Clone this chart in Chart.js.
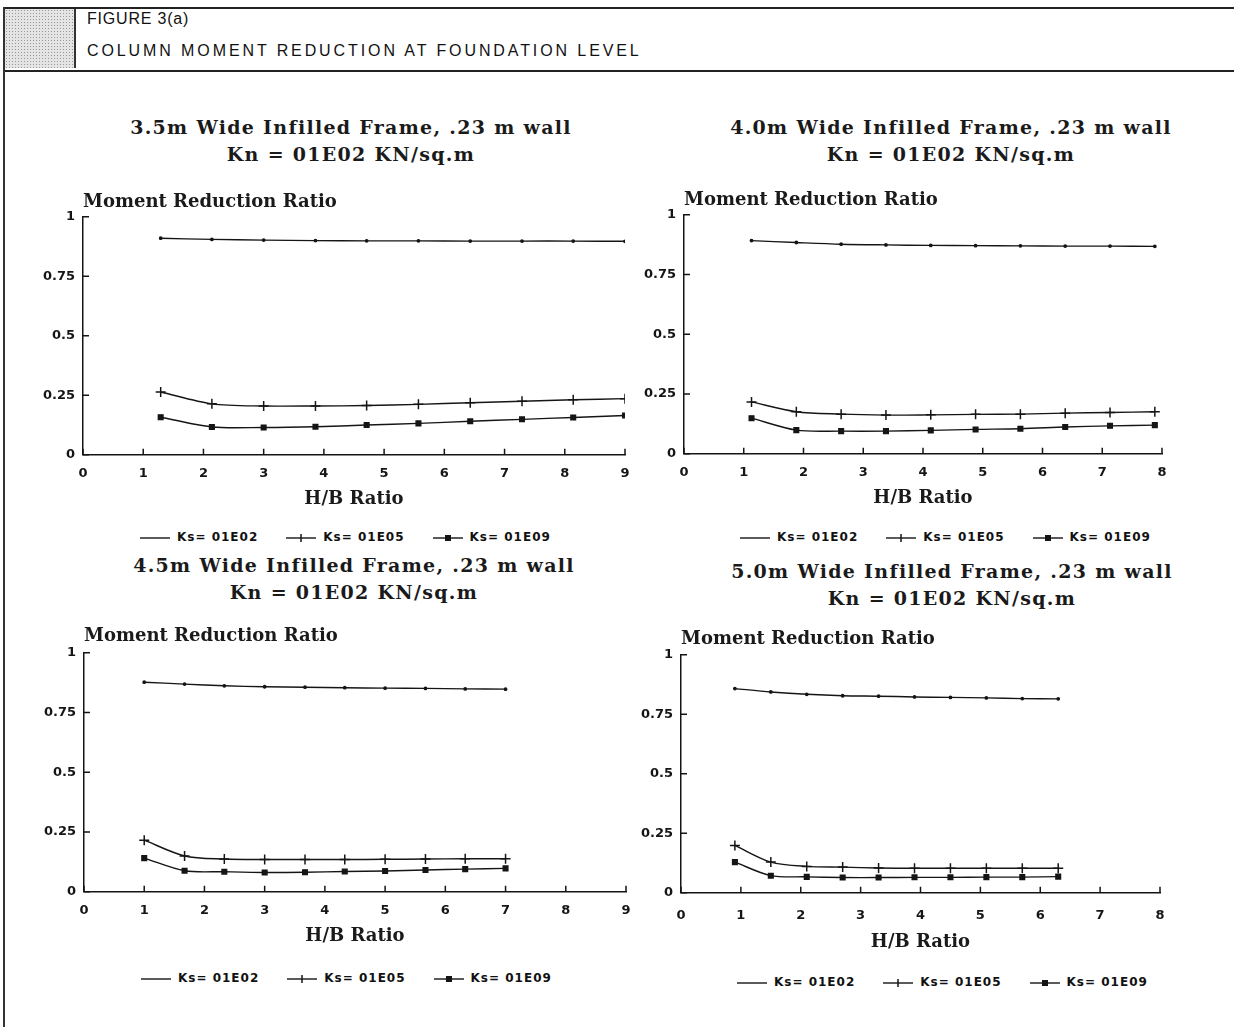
<!DOCTYPE html>
<html>
<head>
<meta charset="utf-8">
<script src="https://cdn.jsdelivr.net/npm/chart.js@4.4.1/dist/chart.umd.min.js"></script>
<style>
  html, body { margin: 0; padding: 0; background: #fff; }
  body { width: 1234px; height: 1027px; position: relative; overflow: hidden; font-family: "Liberation Sans", Arial, sans-serif; color: #111; }
  .frame-top { position: absolute; left: 3px; top: 7px; width: 1231px; height: 61px; border-top: 2px solid #222; border-bottom: 2px solid #222; }
  .frame-left { position: absolute; left: 3px; top: 7px; width: 0; height: 1020px; border-left: 2px solid #333; }
  .shade { position: absolute; left: 5px; top: 9px; width: 69px; height: 59px; border-right: 2px solid #333;
           background-color: #e4e4e4; background-image: radial-gradient(#999 0.6px, transparent 0.9px); background-size: 3px 3px; }
  .head { position: absolute; left: 87px; font-size: 16px; }
  .title { position: absolute; width: 600px; text-align: center; font-family: "DejaVu Serif", serif; font-weight: bold; font-size: 19px; letter-spacing: 1.3px; line-height: 27px; color: #1a1a1a; }
  canvas { position: absolute; }
  .legend { position: absolute; font-family: "DejaVu Sans", sans-serif; font-weight: bold; font-size: 12px; letter-spacing: 1px; white-space: nowrap; }
  .legend span.item { display: inline-block; margin-right: 28px; }
  .legend svg { vertical-align: middle; margin-right: 7px; }
</style>
</head>
<body>
<div class="frame-top"></div>
<div class="frame-left"></div>
<div class="shade"></div>
<div class="head" style="top:10px; letter-spacing:0.8px;">FIGURE 3(a)</div>
<div class="head" style="top:42px; letter-spacing:2.9px;">COLUMN MOMENT REDUCTION AT FOUNDATION LEVEL</div>

<div class="title" style="left:51px; top:114px;">3.5m Wide Infilled Frame, .23 m wall<br>Kn = 01E02 KN/sq.m</div>
<div class="title" style="left:651px; top:114px;">4.0m Wide Infilled Frame, .23 m wall<br>Kn = 01E02 KN/sq.m</div>
<div class="title" style="left:54px; top:552px;">4.5m Wide Infilled Frame, .23 m wall<br>Kn = 01E02 KN/sq.m</div>
<div class="title" style="left:652px; top:558px;">5.0m Wide Infilled Frame, .23 m wall<br>Kn = 01E02 KN/sq.m</div>

<canvas id="c1"></canvas>
<canvas id="c2"></canvas>
<canvas id="c3"></canvas>
<canvas id="c4"></canvas>

<div class="legend" id="lg1" style="left:140px; top:530px;"></div>
<div class="legend" id="lg2" style="left:740px; top:530px;"></div>
<div class="legend" id="lg3" style="left:141px; top:971px;"></div>
<div class="legend" id="lg4" style="left:737px; top:975px;"></div>

<script>
// H/B ratios, one list per frame width
const hb35 = [1.29, 2.14, 3.0, 3.86, 4.71, 5.57, 6.43, 7.29, 8.14, 9.0];
const hb40 = [1.13, 1.88, 2.63, 3.38, 4.13, 4.88, 5.63, 6.38, 7.13, 7.88];
const hb45 = [1.0, 1.67, 2.33, 3.0, 3.67, 4.33, 5.0, 5.67, 6.33, 7.0];
const hb50 = [0.9, 1.5, 2.1, 2.7, 3.3, 3.9, 4.5, 5.1, 5.7, 6.3];

// Moment reduction ratio
const w35E02 = [0.910, 0.905, 0.902, 0.900, 0.899, 0.899, 0.898, 0.898, 0.898, 0.897];
const w35E05 = [0.264, 0.214, 0.205, 0.205, 0.207, 0.212, 0.219, 0.225, 0.231, 0.236];
const w35E09 = [0.158, 0.117, 0.115, 0.118, 0.125, 0.132, 0.141, 0.149, 0.157, 0.165];

const w40E02 = [0.892, 0.884, 0.877, 0.874, 0.872, 0.871, 0.870, 0.869, 0.869, 0.868];
const w40E05 = [0.217, 0.176, 0.166, 0.162, 0.163, 0.165, 0.166, 0.170, 0.173, 0.176];
const w40E09 = [0.149, 0.099, 0.095, 0.095, 0.098, 0.102, 0.105, 0.112, 0.117, 0.120];

const w45E02 = [0.877, 0.869, 0.862, 0.858, 0.856, 0.854, 0.852, 0.851, 0.849, 0.848];
const w45E05 = [0.216, 0.150, 0.137, 0.135, 0.135, 0.135, 0.136, 0.137, 0.138, 0.138];
const w45E09 = [0.141, 0.088, 0.084, 0.081, 0.082, 0.085, 0.087, 0.091, 0.095, 0.098];

const w50E02 = [0.858, 0.844, 0.834, 0.828, 0.826, 0.823, 0.821, 0.819, 0.816, 0.815];
const w50E05 = [0.199, 0.129, 0.111, 0.108, 0.104, 0.103, 0.103, 0.103, 0.103, 0.103];
const w50E09 = [0.129, 0.072, 0.067, 0.064, 0.064, 0.065, 0.065, 0.066, 0.066, 0.068];

const seriesNames = ['Ks= 01E02', 'Ks= 01E05', 'Ks= 01E09'];
const yTicks = [0, 0.25, 0.5, 0.75, 1];
const yTickLabels = ['0', '0.25', '0.5', '0.75', '1'];

const ink = '#151515';

function pts(xs, ys) {
    return xs.map((x, i) => ({ x: x, y: ys[i] }));
}

// short inward tick marks like the plotter output
const inwardTicks = {
    id: 'inwardTicks',
    afterDraw(chart) {
        const ctx = chart.ctx;
        const xs = chart.scales.x, ys = chart.scales.y;
        ctx.save();
        ctx.strokeStyle = ink;
        ctx.lineWidth = 1.5;
        ctx.beginPath();
        xs.ticks.forEach((t, i) => {
            const px = xs.getPixelForTick(i);
            ctx.moveTo(px, xs.top);
            ctx.lineTo(px, xs.top - 6);
        });
        ys.ticks.forEach((t, i) => {
            const py = ys.getPixelForTick(i);
            ctx.moveTo(ys.right, py);
            ctx.lineTo(ys.right + 6, py);
        });
        ctx.stroke();
        ctx.restore();
    }
};

function makeChart(id, box, xMax, hb, e02, e05, e09) {
    const cv = document.getElementById(id);
    cv.style.left = box.left + 'px';
    cv.style.top = box.top + 'px';
    cv.width = box.width;
    cv.height = box.height;
    cv.style.width = box.width + 'px';
    cv.style.height = box.height + 'px';

    const common = { borderColor: ink, backgroundColor: ink, borderWidth: 1.4, tension: 0.3, fill: false };

    return new Chart(cv, {
        type: 'scatter',
        data: {
            datasets: [
                Object.assign({ label: seriesNames[0], data: pts(hb, e02), showLine: true, pointStyle: 'circle', pointRadius: 1.2 }, common),
                Object.assign({ label: seriesNames[1], data: pts(hb, e05), showLine: true, pointStyle: 'cross', pointRadius: 5, pointBorderWidth: 1.5 }, common),
                Object.assign({ label: seriesNames[2], data: pts(hb, e09), showLine: true, pointStyle: 'rect', pointRadius: 3.3 }, common)
            ]
        },
        options: {
            responsive: false,
            animation: false,
            layout: { padding: { left: 0, right: 20, top: 0, bottom: 0 } },
            scales: {
                x: {
                    type: 'linear',
                    min: 0,
                    max: xMax,
                    grid: { display: false, drawTicks: false },
                    border: { display: true, color: ink, width: 1.5 },
                    ticks: { stepSize: 1, padding: box.xPad, color: ink, font: { family: 'DejaVu Sans', weight: 'bold', size: 13 } },
                    title: { display: true, text: 'H/B Ratio', color: '#1a1a1a', padding: { top: box.xTitleTop, bottom: 2 },
                             font: { family: 'DejaVu Serif', weight: 'bold', size: 18 } }
                },
                y: {
                    type: 'linear',
                    min: 0,
                    max: 1,
                    afterFit(scale) { scale.width = 53; },
                    afterBuildTicks(scale) { scale.ticks = yTicks.map(v => ({ value: v })); },
                    grid: { display: false, drawTicks: false },
                    border: { display: true, color: ink, width: 1.5 },
                    ticks: {
                        padding: 8,
                        color: ink,
                        font: { family: 'DejaVu Sans', weight: 'bold', size: 13 },
                        callback: function(value) {
                            const k = yTicks.indexOf(value);
                            return k >= 0 ? yTickLabels[k] : '';
                        }
                    }
                }
            },
            plugins: {
                legend: { display: false },
                tooltip: { enabled: false },
                title: {
                    display: true,
                    text: 'Moment Reduction Ratio',
                    align: 'start',
                    fullSize: false,
                    color: '#1a1a1a',
                    font: { family: 'DejaVu Serif', weight: 'bold', size: 18 },
                    padding: { top: 10, bottom: box.titleGap }
                }
            }
        },
        plugins: [inwardTicks]
    });
}

makeChart('c1', { left: 30, top: 182, width: 615, height: 330, titleGap: 3.2, xPad: 11, xTitleTop: -4 }, 9, hb35, w35E02, w35E05, w35E09);
makeChart('c2', { left: 631, top: 180, width: 551, height: 331, titleGap: 3.2, xPad: 11, xTitleTop: -4 }, 8, hb40, w40E02, w40E05, w40E09);
makeChart('c3', { left: 31, top: 616, width: 615, height: 333, titleGap: 5.2, xPad: 11, xTitleTop: -4 }, 9, hb45, w45E02, w45E05, w45E09);
makeChart('c4', { left: 628, top: 619, width: 552, height: 336, titleGap: 4.2, xPad: 15, xTitleTop: -7 }, 8, hb50, w50E02, w50E05, w50E09);

// legend: short line with the series marker, then the name
function markerSvg(k) {
    let m = '';
    if (k === 1) m = '<line x1="15" y1="1" x2="15" y2="9" stroke="' + ink + '" stroke-width="1.5"/>';
    if (k === 2) m = '<rect x="12" y="2" width="6" height="6" fill="' + ink + '"/>';
    return '<svg width="30" height="10"><line x1="0" y1="5" x2="30" y2="5" stroke="' + ink + '" stroke-width="1.4"/>' + m + '</svg>';
}
['lg1', 'lg2', 'lg3', 'lg4'].forEach(id => {
    document.getElementById(id).innerHTML = seriesNames
        .map((n, k) => '<span class="item">' + markerSvg(k) + n + '</span>').join('');
});
</script>
</body>
</html>
